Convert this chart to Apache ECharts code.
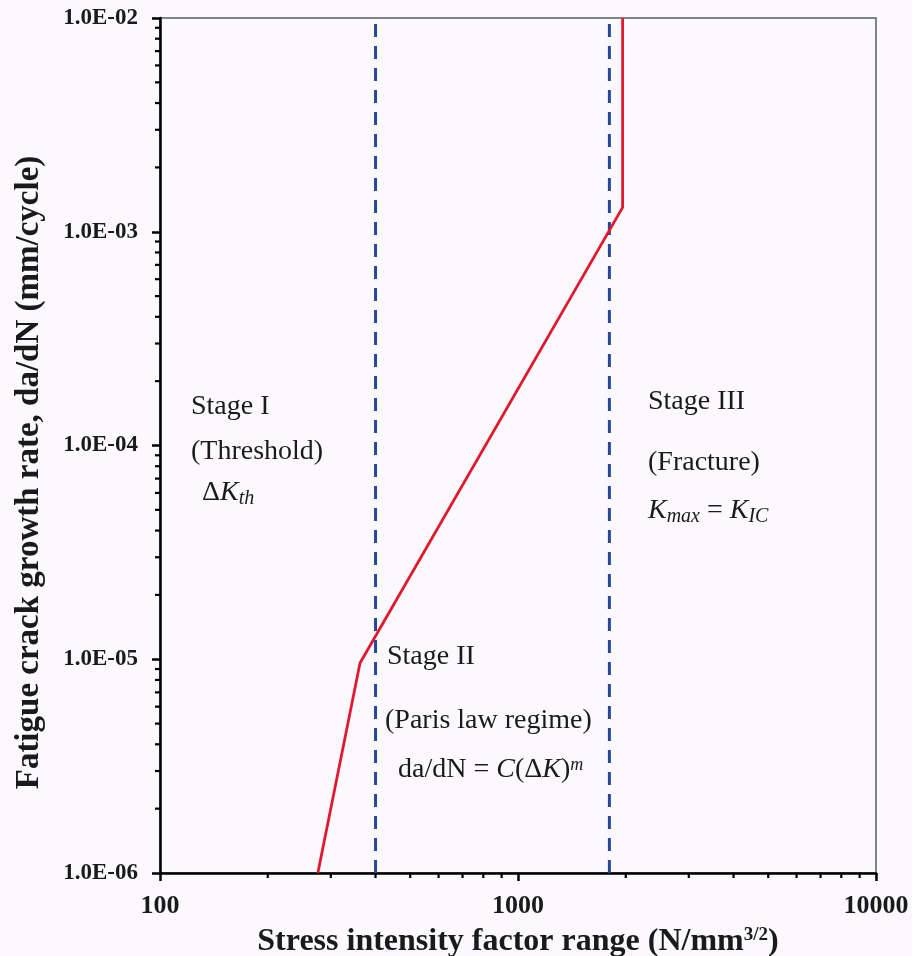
<!DOCTYPE html>
<html>
<head>
<meta charset="utf-8">
<script src="https://cdn.jsdelivr.net/npm/echarts@6/dist/echarts.min.js"></script>
<style>
html,body{margin:0;padding:0;background:#fbf9fd;}
#chart{width:912px;height:956px;}
</style>
</head>
<body>
<div id="chart"></div>
<script>
// ---- data ----
const xTickLabels = ['100', '1000', '10000'];
const yTickLabels = ['1.0E-06', '1.0E-05', '1.0E-04', '1.0E-03', '1.0E-02'];
const crackCurve = [[276, 1e-6], [362, 9.6e-6], [1960, 1.3e-3], [1960, 1e-2]];
const stageBoundaryI = [[400, 1e-6], [400, 1e-2]];
const stageBoundaryII = [[1800, 1e-6], [1800, 1e-2]];
const xMinorTicks = [200, 300, 400, 500, 600, 700, 800, 900, 2000, 3000, 4000, 5000, 6000, 7000, 8000, 9000];
const yMinorTicks = [2e-6, 3e-6, 4e-6, 5e-6, 6e-6, 7e-6, 8e-6, 9e-6,
  2e-5, 3e-5, 4e-5, 5e-5, 6e-5, 7e-5, 8e-5, 9e-5,
  2e-4, 3e-4, 4e-4, 5e-4, 6e-4, 7e-4, 8e-4, 9e-4,
  2e-3, 3e-3, 4e-3, 5e-3, 6e-3, 7e-3, 8e-3, 9e-3];

const X_MIN = 100, X_MAX = 10000, Y_MIN = 1e-6, Y_MAX = 1e-2;
const FONT = '"Liberation Serif", "Times New Roman", serif';

const chart = echarts.init(document.getElementById('chart'), null, {renderer: 'canvas'});

function xLabel(v) {
  const i = Math.round(Math.log10(v) - 2);
  return xTickLabels[i] !== undefined ? xTickLabels[i] : '';
}
function yLabel(v) {
  const i = Math.round(Math.log10(v) + 6);
  return yTickLabels[i] !== undefined ? yTickLabels[i] : '';
}

const annoStyle = {fontFamily: FONT, fontSize: 28, fill: '#1a1a1a'};
const rich = {
  it: {fontFamily: FONT, fontSize: 28, fontStyle: 'italic', color: '#1a1a1a'},
  sub: {fontFamily: FONT, fontSize: 20, fontStyle: 'italic', color: '#1a1a1a', verticalAlign: 'bottom', padding: [12, 0, 0, 0]},
  sup: {fontFamily: FONT, fontSize: 18, fontStyle: 'italic', color: '#1a1a1a', verticalAlign: 'top', padding: [0, 0, 10, 0]},
  n: {fontFamily: FONT, fontSize: 28, color: '#1a1a1a'}
};

function anno(left, cy, text) {
  return {
    type: 'text', left: left, top: cy - 17, z: 50,
    style: Object.assign({text: text, rich: rich}, annoStyle)
  };
}

const option = {
  backgroundColor: '#fbf9fd',
  animation: false,
  grid: {left: 160, right: 36, top: 18, bottom: 83, outerBoundsMode: 'none', containLabel: false,
    show: true, borderColor: '#56605e', borderWidth: 1.5, backgroundColor: 'transparent'},
  xAxis: {
    type: 'log', logBase: 10, min: X_MIN, max: X_MAX,
    axisLine: {show: true, lineStyle: {color: '#000', width: 2.5}},
    axisTick: {show: true, length: 8, lineStyle: {color: '#000', width: 2.5}},
    splitLine: {show: false},
    axisLabel: {formatter: xLabel, fontFamily: FONT, fontWeight: 'bold', fontSize: 26, color: '#1a1a1a', margin: 20},
    name: 'Stress intensity factor range (N/mm{sup|3/2})',
    nameLocation: 'middle', nameGap: 53,
    nameTextStyle: {fontFamily: FONT, fontWeight: 'bold', fontSize: 32, color: '#1a1a1a',
      rich: {sup: {fontFamily: FONT, fontWeight: 'bold', fontSize: 19, color: '#1a1a1a', verticalAlign: 'top', padding: [0, 0, 13, 0]}}}
  },
  yAxis: {
    type: 'log', logBase: 10, min: Y_MIN, max: Y_MAX,
    axisLine: {show: true, lineStyle: {color: '#000', width: 2.5}},
    axisTick: {show: true, length: 8, lineStyle: {color: '#000', width: 2.5}},
    splitLine: {show: false},
    axisLabel: {formatter: yLabel, fontFamily: FONT, fontWeight: 'bold', fontSize: 23, color: '#1a1a1a', margin: 22},
    name: 'Fatigue crack growth rate, da/dN (mm/cycle)',
    nameLocation: 'middle', nameGap: 114,
    nameTextStyle: {fontFamily: FONT, fontWeight: 'bold', fontSize: 33, color: '#1a1a1a', padding: [0, 54, 0, 0]}
  },
  series: [
    {
      type: 'line', data: stageBoundaryI, symbol: 'none', silent: true,
      lineStyle: {color: '#27479b', width: 3, type: [13, 9]}, z: 3
    },
    {
      type: 'line', data: stageBoundaryII, symbol: 'none', silent: true,
      lineStyle: {color: '#27479b', width: 3, type: [13, 9]}, z: 3
    },
    {
      type: 'line', data: crackCurve, symbol: 'none', silent: true,
      lineStyle: {color: '#e1182e', width: 2.8}, z: 4
    },
    {
      type: 'custom', silent: true, clip: false, z: 5,
      data: xMinorTicks.map(v => [v, Y_MIN]),
      encode: {x: 0, y: 1},
      renderItem: function (params, api) {
        const p = api.coord([api.value(0), api.value(1)]);
        return {type: 'line', shape: {x1: p[0], y1: p[1], x2: p[0], y2: p[1] + 5},
          style: {stroke: '#000', lineWidth: 2.2}};
      }
    },
    {
      type: 'custom', silent: true, clip: false, z: 5,
      data: yMinorTicks.map(v => [X_MIN, v]),
      encode: {x: 0, y: 1},
      renderItem: function (params, api) {
        const p = api.coord([api.value(0), api.value(1)]);
        return {type: 'line', shape: {x1: p[0], y1: p[1], x2: p[0] - 5, y2: p[1]},
          style: {stroke: '#000', lineWidth: 2.2}};
      }
    }
  ],
  graphic: [
    anno(191, 410, 'Stage I'),
    anno(191, 455, '(Threshold)'),
    anno(202, 496, 'Δ{it|K}{sub|th}'),
    anno(387, 660, 'Stage II'),
    anno(385, 724, '(Paris law regime)'),
    anno(398, 773, 'da/dN = {it|C}(Δ{it|K}){sup|m}'),
    anno(648, 405, 'Stage III'),
    anno(648, 466, '(Fracture)'),
    anno(648, 514, '{it|K}{sub|max} = {it|K}{sub|IC}')
  ]
};

chart.setOption(option);
</script>
</body>
</html>
